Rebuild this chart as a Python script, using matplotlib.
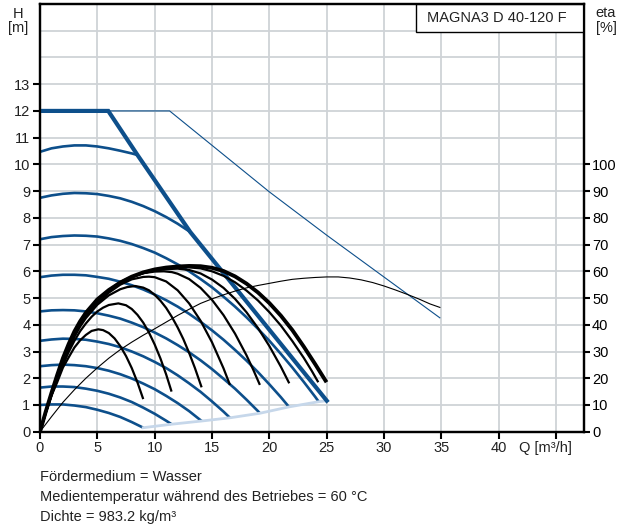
import matplotlib
matplotlib.use("Agg")
import matplotlib.pyplot as plt
from matplotlib.patches import Rectangle
from matplotlib.transforms import blended_transform_factory

plt.rcParams['font.family'] = ['Liberation Sans', 'DejaVu Sans']

# --- data (Q in m3/h, H in m, eta drawn on the H scale: 10 % = 1 m)
max_q = [0, 5.95, 8.5, 13.1, 25.0]
max_h = [12, 12, 10.35, 7.47, 1.16]

max2_q = [0, 11.3, 20.0, 25.0, 34.86]
max2_h = [12, 12, 8.97, 7.35, 4.26]

min_q = [9.0, 11.47, 14.1, 16.56, 19.17, 21.73, 24.26, 25.0]
min_h = [0.15, 0.28, 0.40, 0.52, 0.69, 0.93, 1.12, 1.16]

speed1_q = [0, 1, 2, 3, 4, 5, 6, 7, 8, 8.5]
speed1_h = [10.47, 10.6, 10.67, 10.71, 10.71, 10.67, 10.6, 10.51, 10.41, 10.35]
speed2_q = [0, 1, 2, 3, 4, 5, 6, 7, 8, 9, 10, 11, 12, 13.1]
speed2_h = [8.75, 8.84, 8.9, 8.93, 8.92, 8.89, 8.82, 8.73, 8.6, 8.44, 8.25, 8.03, 7.78, 7.47]
speed3_q = [0, 1, 2, 3, 4, 5, 6, 7, 8, 9, 10, 11, 12, 13, 14, 15, 16, 17, 18, 19, 20, 21, 22, 23, 24, 24.3]
speed3_h = [7.2, 7.28, 7.32, 7.34, 7.33, 7.3, 7.23, 7.14, 7.02, 6.87, 6.7, 6.49, 6.26, 6.0, 5.71, 5.4,
            5.05, 4.68, 4.28, 3.85, 3.4, 2.91, 2.4, 1.86, 1.3, 1.12]
speed4_q = [0, 1, 2, 3, 4, 5, 6, 7, 8, 9, 10, 11, 12, 13, 14, 15, 16, 17, 18, 19, 20, 21, 21.7]
speed4_h = [5.78, 5.84, 5.87, 5.87, 5.85, 5.79, 5.72, 5.61, 5.48, 5.32, 5.13, 4.92, 4.68, 4.41, 4.11,
            3.79, 3.44, 3.06, 2.66, 2.23, 1.77, 1.29, 0.93]
speed5_q = [0, 1, 2, 3, 4, 5, 6, 7, 8, 9, 10, 11, 12, 13, 14, 15, 16, 17, 18, 19, 19.17]
speed5_h = [4.5, 4.54, 4.55, 4.54, 4.5, 4.43, 4.34, 4.23, 4.08, 3.91, 3.71, 3.49, 3.24, 2.97, 2.67,
            2.34, 1.98, 1.61, 1.2, 0.77, 0.69]
speed6_q = [0, 1, 2, 3, 4, 5, 6, 7, 8, 9, 10, 11, 12, 13, 14, 15, 16, 16.56]
speed6_h = [3.4, 3.45, 3.48, 3.47, 3.44, 3.37, 3.28, 3.16, 3.0, 2.82, 2.61, 2.38, 2.11, 1.81, 1.49,
            1.13, 0.75, 0.52]
speed7_q = [0, 1, 2, 3, 4, 5, 6, 7, 8, 9, 10, 11, 12, 13, 14, 14.1]
speed7_h = [2.45, 2.49, 2.51, 2.49, 2.45, 2.38, 2.28, 2.15, 1.99, 1.8, 1.59, 1.34, 1.07, 0.77, 0.43, 0.40]
speed8_q = [0, 1, 2, 3, 4, 5, 6, 7, 8, 9, 10, 11, 11.47]
speed8_h = [1.65, 1.69, 1.69, 1.67, 1.61, 1.53, 1.42, 1.28, 1.11, 0.9, 0.67, 0.41, 0.28]
speed9_q = [0, 1, 2, 3, 4, 5, 6, 7, 8, 9]
speed9_h = [1.0, 1.02, 1.02, 0.98, 0.92, 0.82, 0.7, 0.55, 0.36, 0.15]

# efficiency curves
eta_max_q = [0, 0.5, 1, 1.5, 2, 2.5, 3, 3.5, 4, 5, 6, 7, 8, 9, 10, 11, 12, 13, 14, 15, 16, 17, 18, 19,
             20, 21, 22, 23, 24, 24.98]
eta_max_h = [0, 0.75, 1.45, 2.12, 2.75, 3.28, 3.75, 4.13, 4.45, 4.95, 5.3, 5.58, 5.8, 5.96, 6.07, 6.14,
             6.18, 6.2, 6.19, 6.13, 6.01, 5.81, 5.54, 5.21, 4.81, 4.34, 3.8, 3.18, 2.52, 1.85]
eta1_q = [0, 0.5, 1, 1.5, 2, 2.5, 3, 3.5, 4, 4.5, 5.08, 5.5, 6, 6.5, 7, 7.5, 8, 8.5, 9]
eta1_h = [0, 0.7, 1.35, 1.85, 2.4, 2.78, 3.15, 3.42, 3.62, 3.77, 3.83, 3.8, 3.69, 3.49, 3.2, 2.83,
          2.38, 1.84, 1.22]
eta2_q = [0, 0.5, 1, 1.5, 2, 2.5, 3, 3.5, 4, 4.5, 5, 5.5, 6, 6.83, 7.5, 8, 8.5, 9, 9.5, 10, 10.5, 11, 11.47]
eta2_h = [0, 0.7, 1.35, 1.95, 2.5, 2.98, 3.4, 3.76, 4.05, 4.3, 4.5, 4.64, 4.74, 4.8, 4.73, 4.59, 4.37,
          4.08, 3.71, 3.26, 2.74, 2.14, 1.5]
eta3_q = [0, 0.5, 1, 1.5, 2, 2.5, 3, 3.5, 4, 5, 6, 7, 7.6, 8.3, 9, 9.5, 10, 10.5, 11, 11.5, 12, 12.5,
          13, 13.5, 14.09]
eta3_h = [0, 0.71, 1.38, 2.0, 2.58, 3.09, 3.55, 3.93, 4.25, 4.75, 5.1, 5.33, 5.41, 5.45, 5.39, 5.29,
          5.12, 4.9, 4.63, 4.29, 3.9, 3.46, 2.95, 2.39, 1.66]
eta4_q = [0, 0.5, 1, 1.5, 2, 2.5, 3, 3.5, 4, 5, 6, 7, 8, 9, 9.5, 10, 11, 12, 13, 14, 15, 16, 16.56]
eta4_h = [0, 0.72, 1.4, 2.05, 2.65, 3.16, 3.6, 3.98, 4.3, 4.8, 5.2, 5.5, 5.7, 5.79, 5.8, 5.78, 5.62,
          5.29, 4.8, 4.15, 3.34, 2.37, 1.75]
eta5_q = [0, 0.5, 1, 1.5, 2, 2.5, 3, 3.5, 4, 5, 6, 7, 8, 9, 10, 10.8, 11.5, 12, 13, 14, 15, 16, 17,
          18, 18.6, 19.17]
eta5_h = [0, 0.73, 1.42, 2.08, 2.7, 3.22, 3.68, 4.06, 4.38, 4.9, 5.3, 5.6, 5.8, 5.93, 5.99, 6.0, 5.97,
          5.91, 5.71, 5.38, 4.93, 4.36, 3.67, 2.86, 2.31, 1.75]
eta6_q = [0, 0.5, 1, 1.5, 2, 2.5, 3, 3.5, 4, 5, 6, 7, 8, 9, 10, 11, 12, 13, 14, 15, 16, 17, 18, 19,
          20, 21, 21.73]
eta6_h = [0, 0.74, 1.43, 2.09, 2.72, 3.24, 3.71, 4.09, 4.41, 4.92, 5.27, 5.55, 5.77, 5.93, 6.03, 6.08,
          6.1, 6.05, 5.92, 5.69, 5.38, 4.97, 4.47, 3.88, 3.2, 2.43, 1.81]
eta7_q = [0, 0.5, 1, 1.5, 2, 2.5, 3, 3.5, 4, 5, 6, 7, 8, 9, 10, 11, 12, 12.9, 14, 15, 16, 17, 18, 19,
          20, 21, 22, 23, 23.7, 24.26]
eta7_h = [0, 0.74, 1.44, 2.1, 2.73, 3.26, 3.73, 4.11, 4.43, 4.93, 5.28, 5.56, 5.78, 5.94, 6.05, 6.12,
          6.14, 6.15, 6.11, 6.0, 5.83, 5.59, 5.28, 4.91, 4.47, 3.97, 3.39, 2.76, 2.27, 1.85]

eta_sys_q = [0, 1, 2, 3, 4, 5, 6, 7, 8, 9, 10, 11, 12, 13, 14, 15, 16, 17, 18, 19, 20, 21, 22, 23, 24,
             25, 26, 27, 28, 29, 30, 31, 32, 33, 34, 34.86]
eta_sys_h = [0, 0.56, 1.1, 1.57, 2.0, 2.39, 2.75, 3.07, 3.35, 3.61, 3.85, 4.1, 4.35, 4.58, 4.8, 4.97,
             5.12, 5.26, 5.38, 5.47, 5.55, 5.63, 5.7, 5.74, 5.77, 5.79, 5.79, 5.75, 5.68, 5.58, 5.45,
             5.3, 5.14, 4.97, 4.78, 4.65]

x_ticks = [0, 5, 10, 15, 20, 25, 30, 35, 40, 45]
h_ticks = list(range(0, 14))
eta_ticks = list(range(0, 101, 10))

title = "MAGNA3 D 40-120 F"
notes = ["Fördermedium = Wasser",
         "Medientemperatur während des Betriebes = 60 °C",
         "Dichte = 983.2 kg/m³"]

blue = '#0d4f8b'
light_blue = '#c6d7ea'
grid_c = '#cfd3d7'

fig = plt.figure(figsize=(6.33, 5.29), dpi=100)
ax = fig.add_axes([40 / 633, 97.3 / 529, 543.7 / 633, 427.7 / 529])
ax.set_xlim(0, 47.4)
ax.set_ylim(0, 16)

for v in range(5, 46, 5):
    ax.axvline(v, color=grid_c, lw=1.3, zorder=0)
for v in range(1, 16):
    ax.axhline(v, color=grid_c, lw=1.3, zorder=0)

# pump curves
speeds = [(speed1_q, speed1_h), (speed2_q, speed2_h), (speed3_q, speed3_h),
          (speed4_q, speed4_h), (speed5_q, speed5_h), (speed6_q, speed6_h),
          (speed7_q, speed7_h), (speed8_q, speed8_h), (speed9_q, speed9_h)]
for q, h in speeds:
    ax.plot(q, h, color=blue, lw=1.9, solid_capstyle='butt', zorder=2)
ax.plot(min_q, min_h, color=light_blue, lw=2.0, zorder=2)
ax.plot(max2_q, max2_h, color=blue, lw=0.8, zorder=2)
ax.plot(max_q, max_h, color=blue, lw=3.0, solid_joinstyle='miter', zorder=3)

etas = [(eta1_q, eta1_h), (eta2_q, eta2_h), (eta3_q, eta3_h), (eta4_q, eta4_h),
        (eta5_q, eta5_h), (eta6_q, eta6_h), (eta7_q, eta7_h)]
for q, h in etas:
    ax.plot(q, h, color='black', lw=1.6, solid_capstyle='butt', zorder=4)
ax.plot(eta_max_q, eta_max_h, color='black', lw=2.8, solid_capstyle='butt', zorder=4)
ax.plot(eta_sys_q, eta_sys_h, color='black', lw=0.8, zorder=4)

for s in ax.spines.values():
    s.set_linewidth(1.6)

ax.set_xticks(x_ticks)
ax.set_xticklabels([str(t) for t in x_ticks[:-1]] + [''])
ax.set_yticks(h_ticks)
ax.set_yticklabels([str(t) for t in h_ticks])
ax.tick_params(axis='both', labelsize=10.5, width=1.5, color='black', labelcolor='#222222')
ax.tick_params(axis='y', length=5, pad=2)
ax.tick_params(axis='x', length=5, pad=2)

trans = blended_transform_factory(ax.transData, ax.transAxes)
ax.text(44.05, -0.021, "Q [m³/h]", transform=trans, ha='center', va='top', fontsize=10.5, color='#222222')

ax2 = ax.twinx()
ax2.set_ylim(0, 160)
ax2.set_yticks(eta_ticks)
ax2.set_yticklabels([str(t) for t in eta_ticks])
ax2.tick_params(axis='y', labelsize=10.5, width=1.5, length=4, pad=2, labelcolor='black')
for s in ax2.spines.values():
    s.set_linewidth(1.6)

ax.add_patch(Rectangle((0.691, 0.934), 0.309, 0.066, transform=ax.transAxes,
                       facecolor='white', edgecolor='black', lw=1.0, zorder=6))
ax.text(0.8396, 0.968, title, transform=ax.transAxes, ha='center', va='center',
        fontsize=10.5, color='#222222', zorder=7)

fig.text(18 / 633, 1 - 21 / 529, "H\n[m]", ha='center', va='center', fontsize=10.5,
         linespacing=1.05, color='#222222')
fig.text(606 / 633, 1 - 20.5 / 529, "eta\n[%]", ha='center', va='center', fontsize=10.5,
         linespacing=1.1, color='#222222')

for i, line in enumerate(notes):
    fig.text(40 / 633, 1 - (477 + 20 * i) / 529, line, ha='left', va='center',
             fontsize=10.5, color='#222222')

fig.savefig('out.png', dpi=100, facecolor='white')
